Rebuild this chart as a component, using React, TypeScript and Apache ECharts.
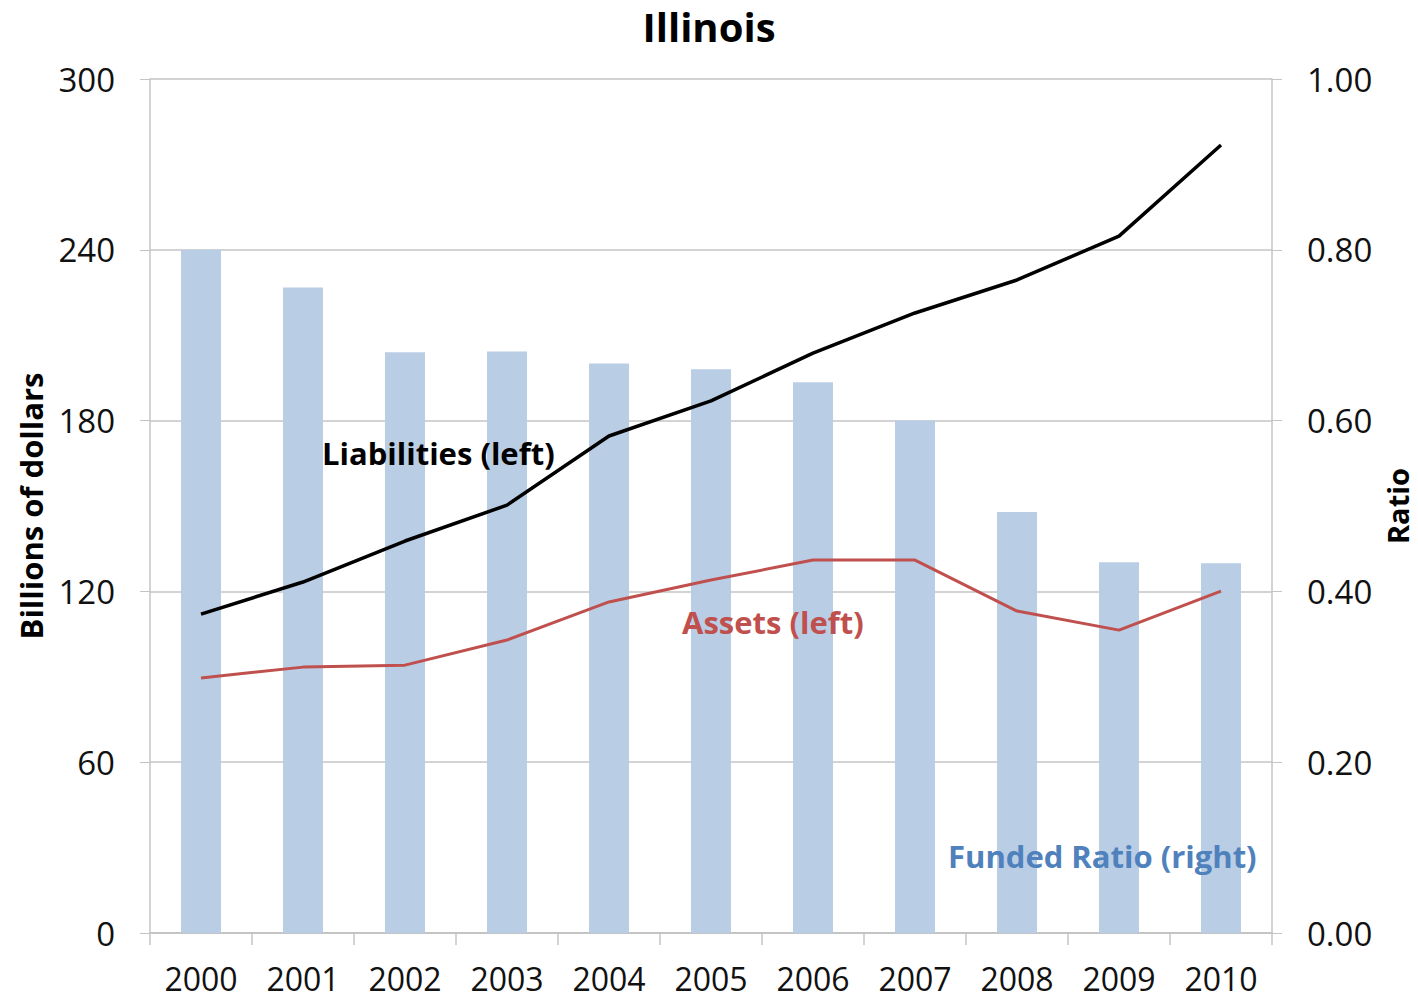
import React, { useEffect, useRef } from "react";
import * as echarts from "echarts";

const years = ["2000", "2001", "2002", "2003", "2004", "2005", "2006", "2007", "2008", "2009", "2010"];
const fundedRatio = [0.80, 0.756, 0.68, 0.681, 0.667, 0.66, 0.645, 0.60, 0.493, 0.434, 0.433];
const liabilities = [112, 123.3, 137.7, 150.3, 174.6, 186.9, 203.7, 217.8, 229.4, 244.8, 276.8];
const assets = [89.6, 93.4, 94.1, 102.9, 116.3, 124.0, 131.0, 131.0, 113.1, 106.4, 120.1];

const FONT = "'Open Sans', 'Noto Sans', sans-serif";
const GRID = "#c4c4c4";

export default function App() {
  const ref = useRef<HTMLDivElement>(null);
  useEffect(() => {
    document.body.style.margin = "0";
    const chart = echarts.init(ref.current!, null, { renderer: "svg" });
    chart.setOption({
      animation: false,
      backgroundColor: "#ffffff",
      textStyle: { fontFamily: FONT },
      title: {
        text: "Illinois",
        left: "center",
        top: 1,
        textStyle: { fontFamily: FONT, fontSize: 40, fontWeight: "bold", color: "#000" },
      },
      grid: { left: 150, right: 146, top: 79, bottom: 65, outerBoundsMode: "none", containLabel: false },
      xAxis: {
        type: "category",
        data: years,
        boundaryGap: true,
        axisLine: { show: true, lineStyle: { color: GRID, width: 2 } },
        axisTick: { show: true, alignWithLabel: false, length: 12, lineStyle: { color: GRID, width: 1.5 } },
        axisLabel: { margin: 29, fontSize: 32, color: "#111", fontFamily: FONT },
      },
      yAxis: [
        {
          type: "value",
          min: 0,
          max: 300,
          interval: 60,
          name: "Billions of dollars",
          nameLocation: "middle",
          nameRotate: 90,
          nameGap: 104,
          nameTextStyle: { fontSize: 31, fontWeight: "bold", color: "#000", fontFamily: FONT },
          axisLine: { show: true, lineStyle: { color: GRID, width: 1.5 } },
          axisTick: { show: true, length: 10, lineStyle: { color: GRID } },
          axisLabel: { margin: 35, fontSize: 33, color: "#111", fontFamily: FONT },
          splitLine: { show: true, lineStyle: { color: GRID, width: 1.5 } },
        },
        {
          type: "value",
          min: 0,
          max: 1,
          interval: 0.2,
          name: "Ratio",
          nameLocation: "middle",
          nameRotate: 90,
          nameGap: 110,
          nameTextStyle: { fontSize: 29, fontWeight: "bold", color: "#000", fontFamily: FONT },
          axisLine: { show: true, lineStyle: { color: GRID, width: 1.5 } },
          axisTick: { show: true, length: 10, lineStyle: { color: GRID } },
          axisLabel: {
            margin: 35,
            fontSize: 33,
            color: "#111",
            fontFamily: FONT,
            formatter: (v: number) => v.toFixed(2),
          },
          splitLine: { show: false },
        },
      ],
      series: [
        {
          name: "Funded Ratio (right)",
          type: "bar",
          yAxisIndex: 1,
          data: fundedRatio,
          barWidth: 40,
          itemStyle: { color: "#b9cde5" },
          z: 1,
        },
        {
          name: "Liabilities (left)",
          type: "line",
          yAxisIndex: 0,
          data: liabilities,
          symbol: "none",
          lineStyle: { color: "#000000", width: 3.5 },
          z: 3,
        },
        {
          name: "Assets (left)",
          type: "line",
          yAxisIndex: 0,
          data: assets,
          symbol: "none",
          lineStyle: { color: "#c0504d", width: 3 },
          z: 3,
        },
      ],
      graphic: [
        {
          type: "text",
          left: 322,
          top: 437,
          z: 100,
          style: { text: "Liabilities (left)", font: `bold 31px ${FONT}`, fill: "#000" },
        },
        {
          type: "text",
          left: 682,
          top: 606,
          z: 100,
          style: { text: "Assets (left)", font: `bold 31px ${FONT}`, fill: "#c0504d" },
        },
        {
          type: "text",
          left: 948,
          top: 840,
          z: 100,
          style: { text: "Funded Ratio (right)", font: `bold 31px ${FONT}`, fill: "#4f81bd" },
        },
      ],
    });
    return () => chart.dispose();
  }, []);
  return <div ref={ref} style={{ width: 1418, height: 998, position: "absolute", left: 0, top: 0 }} />;
}
